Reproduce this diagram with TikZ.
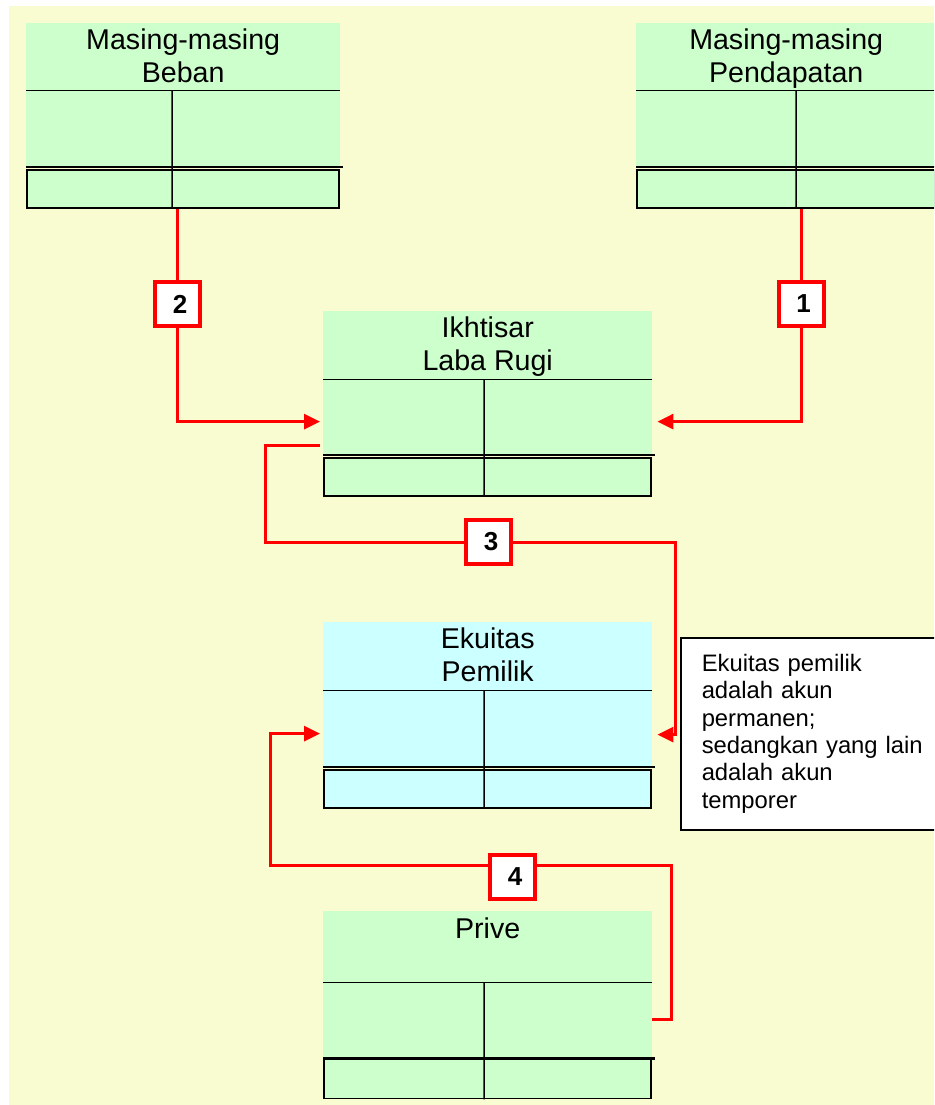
\documentclass[tikz,border=0pt]{standalone}
\usepackage{fontspec}
\setmainfont{Liberation Sans}
\usetikzlibrary{positioning, calc, arrows.meta}

\definecolor{paper}{RGB}{248,252,208}
\definecolor{ledger}{RGB}{204,255,204}
\definecolor{capital}{RGB}{204,255,255}

\begin{document}
\begin{tikzpicture}[x=1pt, y=-1pt]
\tikzset{
    head/.style={
        fill=ledger,
        inner sep=0pt,
        anchor=north west,
    },
    body/.style={
        fill=ledger,
        inner sep=0pt,
    },
    foot/.style={
        draw=black,
        line width=1.6pt,
        fill=ledger,
        inner sep=0pt,
        minimum height=38pt,
    },
    rule/.style={
        draw=black,
        line width=1.5pt,
    },
    caption/.style={
        inner sep=0pt,
        anchor=north,
        align=center,
        font=\fontsize{28.6}{33.5}\selectfont,
    },
    stepno/.style={
        draw=red,
        line width=4pt,
        fill=white,
        minimum width=45pt,
        minimum height=44pt,
        inner sep=0pt,
        font=\fontsize{26}{28}\selectfont\bfseries,
    },
    flow/.style={
        draw=red,
        line width=3pt,
    },
    >={Triangle[length=16pt, width=15pt]},
    node distance=0pt,
}

    \useasboundingbox (0,0) rectangle (934,1105);
    \clip (0,0) rectangle (934,1105);
    \fill[paper] (9,6) rectangle (934,1105);

    % "Masing-masing Beban"
    \node[head, minimum width=314pt, minimum height=67pt] (beban) at (26,23) {};
    \node[body, minimum width=314pt, minimum height=76pt] (beban-body) [below=of beban] {};
    \node[foot, minimum width=312pt] (beban-foot) [below=2.5pt of beban-body] {};
    \node[caption] (beban-name) [below=5.5pt of beban.north] {Masing-masing\\Beban};
    \draw[rule] (beban-body.north west) -- (beban-body.north east);
    \draw[rule] (beban-body.south west) -- ([xshift=3pt]beban-body.south east);
    \draw[rule] ($(beban-body.north west) ! .465 ! (beban-body.north east)$) -- ($(beban-foot.south west) ! .465 ! (beban-foot.south east)$);

    % "Masing-masing Pendapatan"
    \node[head, minimum width=300pt, minimum height=67pt] (pend) at (636,23) {};
    \node[body, minimum width=300pt, minimum height=76pt] (pend-body) [below=of pend] {};
    \node[foot, minimum width=298pt] (pend-foot) [below=2.5pt of pend-body] {};
    \node[caption] (pend-name) [below=5.5pt of pend.north] {Masing-masing\\Pendapatan};
    \draw[rule] (pend-body.north west) -- (pend-body.north east);
    \draw[rule] (pend-body.south west) -- (pend-body.south east);
    \draw[rule] ($(pend-body.north west) ! .533 ! (pend-body.north east)$) -- ($(pend-foot.south west) ! .533 ! (pend-foot.south east)$);

    % "Ikhtisar Laba Rugi"
    \node[head, minimum width=329pt, minimum height=68pt] (ikh) at (323,311) {};
    \node[body, minimum width=329pt, minimum height=75pt] (ikh-body) [below=of ikh] {};
    \node[foot, minimum width=327pt] (ikh-foot) [below=2.5pt of ikh-body] {};
    \node[caption] (ikh-name) [below=5.5pt of ikh.north] {Ikhtisar\\Laba Rugi};
    \draw[rule] (ikh-body.north west) -- (ikh-body.north east);
    \draw[rule] (ikh-body.south west) -- ([xshift=3pt]ikh-body.south east);
    \draw[rule] ($(ikh-body.north west) ! .489 ! (ikh-body.north east)$) -- ($(ikh-foot.south west) ! .489 ! (ikh-foot.south east)$);

    % "Ekuitas Pemilik"
    \node[head, fill=capital, minimum width=329pt, minimum height=68pt] (eku) at (323,622) {};
    \node[body, fill=capital, minimum width=329pt, minimum height=76pt] (eku-body) [below=of eku] {};
    \node[foot, fill=capital, minimum width=327pt] (eku-foot) [below=2.5pt of eku-body] {};
    \node[caption] (eku-name) [below=5.5pt of eku.north] {Ekuitas\\Pemilik};
    \draw[rule] (eku-body.north west) -- (eku-body.north east);
    \draw[rule] (eku-body.south west) -- ([xshift=3pt]eku-body.south east);
    \draw[rule] ($(eku-body.north west) ! .489 ! (eku-body.north east)$) -- ($(eku-foot.south west) ! .489 ! (eku-foot.south east)$);

    % "Prive"
    \node[head, minimum width=329pt, minimum height=71pt] (prive) at (323,911) {};
    \node[body, minimum width=329pt, minimum height=74pt] (prive-body) [below=of prive] {};
    \node[foot, minimum width=327pt, minimum height=39pt] (prive-foot) [below=2pt of prive-body] {};
    \node[caption] (prive-name) [below=6.5pt of prive.north] {Prive};
    \draw[rule] (prive-body.north west) -- (prive-body.north east);
    \draw[rule, line width=3.3pt] (prive-foot.north west) -- ([xshift=3pt]prive-foot.north east);
    \draw[rule] ($(prive-body.north west) ! .489 ! (prive-body.north east)$) -- ($(prive-foot.south west) ! .489 ! (prive-foot.south east)$);

    % note
    \node[draw=black, line width=1.5pt, fill=white, anchor=north west,
          minimum height=192pt, text width=240pt, inner xsep=21pt, align=left,
          font=\fontsize{23.8}{27.3}\selectfont] (note) at (680,637)
          {Ekuitas pemilik\\adalah akun\\permanen;\\sedangkan yang lain\\adalah akun\\temporer};

    % closing steps
    \node[stepno] (step1) at (801,304) {\hspace*{5pt}1};
    \node[stepno] (step2) at (177.5,304) {\hspace*{5pt}2};
    \node[stepno] (step3) at (488.5,542) {\hspace*{5pt}3};
    \node[stepno] (step4) at (512.5,877) {\hspace*{5pt}4};

    \coordinate (turn3a) at (265,542);
    \coordinate (turn3b) at (675,542);
    \coordinate (turn4a) at (671,865);
    \coordinate (turn4b) at (270,865);

    % arrows
    \draw[flow] (pend-foot.south -| step1) -- (step1);
    \draw[flow, ->, shorten >=5pt] (step1) |- ($(ikh-body.east)+(0,4.5)$);

    \draw[flow] (beban-foot.south -| step2) -- (step2);
    \draw[flow, ->, shorten >=3pt] (step2) |- ($(ikh-body.west)+(0,4.5)$);

    \draw[flow] ($(ikh-body.west)+(-3,28)$) -| (turn3a) -- (step3);
    \draw[flow, ->, shorten >=5pt] (step3) -- (turn3b) |- ($(eku-body.east)+(0,6)$);

    \draw[flow] (prive-body.east) -| (turn4a) -- (turn4a -| step4.east);
    \draw[flow, ->, shorten >=3pt] (turn4a -| step4.west) -- (turn4b) |- ($(eku-body.west)+(0,5)$);

\end{tikzpicture}
\end{document}
